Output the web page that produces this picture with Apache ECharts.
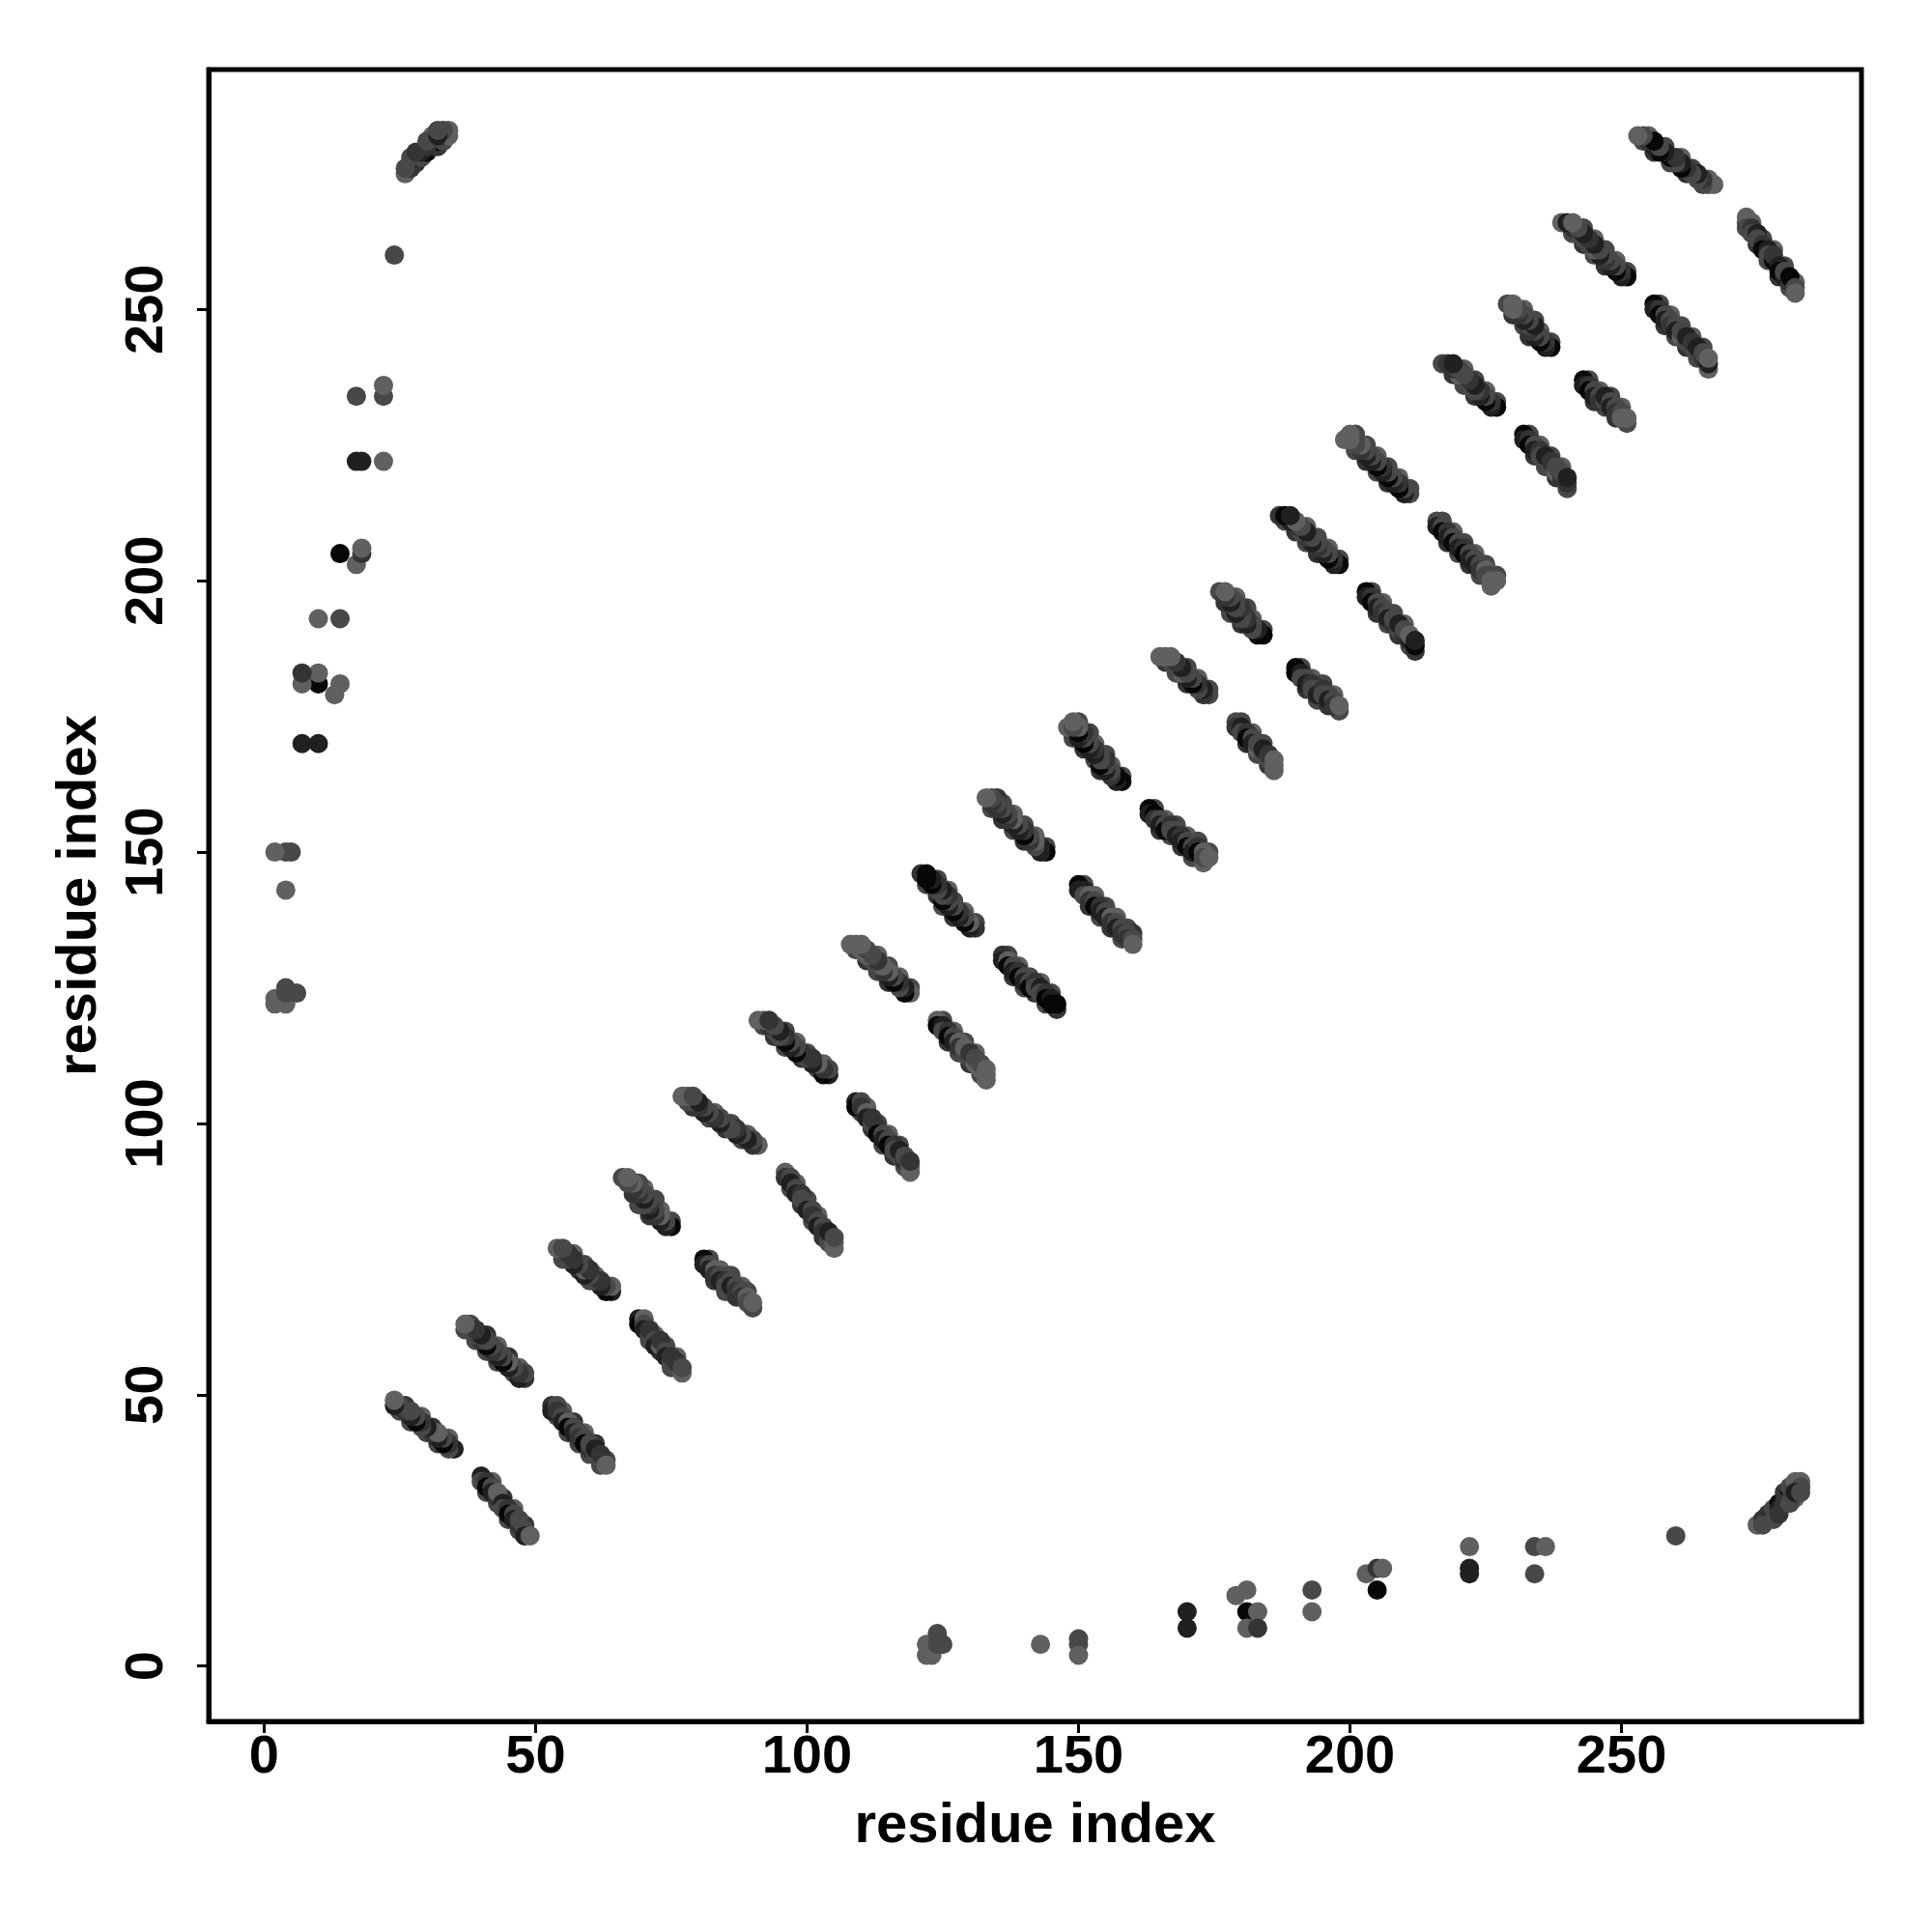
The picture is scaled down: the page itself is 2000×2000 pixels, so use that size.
<!DOCTYPE html>
<html>
<head>
<meta charset="utf-8">
<script src="https://cdn.jsdelivr.net/npm/echarts@6/dist/echarts.min.js"></script>
<style>
  html, body { margin: 0; padding: 0; background: #fff; }
  #chart { width: 2000px; height: 2000px; }
</style>
</head>
<body>
<div id="chart"></div>
<script>
// ---- data: residue-residue contacts [i, j, shade level] (map is symmetric: drawn at (i,j) and (j,i)) ----
// shade level: 0 = black ... 4 = light grey
const tickValues = [0, 50, 100, 150, 200, 250];

const terminalContacts = [
  [275,26,4],[276,27,2],[277,27,1],[277,28,2],[278,28,1],[278,29,3],[279,30,0],[279,29,1],
  [280,31,1],[280,32,2],[281,31,3],[281,32,0],[281,33,3],[282,33,2],[282,34,4],[283,34,4],
  [282,31,4],[283,33,3],[276,26,3],[278,27,3],[279,28,2],[280,30,2],[281,30,3],[282,32,1],[283,32,3]
];

const loopContacts = [
  [122,2,4],[123,2,4],[122,4,4],[124,4,3],[125,4,3],[124,6,3],[143,4,4],[150,5,3],[150,4,3],[150,2,4],
  [170,10,1],[170,7,1],[179,13,4],[181,14,4],[181,10,0],[183,10,4],[181,7,4],[183,7,2],
  [193,14,3],[193,10,4],[203,17,4],[205,18,2],[206,18,4],[205,14,0],
  [222,22,4],[222,18,1],[222,17,1],[234,22,3],[236,22,4],[234,17,3],[260,24,3]
];

const sheetContactsA = [
  [40,35,1],[40,34,3],[41,34,2],[41,33,0],[42,33,3],[42,32,1],[43,31,2],[43,32,4],[44,30,1],[44,29,3],
  [45,29,2],[45,28,0],[46,28,3],[46,27,1],[47,26,2],[47,27,3],[48,25,3],[48,24,1],[49,24,4],
  [53,48,2],[53,47,1],[54,48,3],[54,47,2],[55,46,3],[55,45,1],[56,45,4],[56,44,0],[57,44,3],[57,43,1],
  [58,43,3],[58,42,2],[59,42,3],[59,41,0],[60,40,2],[60,41,3],[61,39,3],[61,40,1],[62,38,3],[62,39,2],[63,37,4],
  [69,64,1],[69,63,0],[70,64,4],[70,63,3],[70,62,1],[71,61,3],[71,62,2],[72,60,3],[72,59,1],[73,59,4],
  [73,60,2],[74,58,3],[74,57,1],[75,56,3],[75,57,2],[76,55,3],[76,56,2],[77,54,4],[77,55,3],
  [81,75,0],[81,74,1],[82,74,3],[82,73,1],[83,73,4],[83,72,2],[84,72,3],[84,71,1],[85,71,2],[85,70,3],
  [86,71,3],[86,70,1],[87,70,3],[87,69,2],[88,69,3],[88,68,2],[89,68,4],[89,67,3],[90,67,4],
  [96,91,4],[96,90,2],[97,90,3],[97,89,1],[98,88,3],[98,87,1],[99,87,2],[99,86,3],[100,85,3],[100,84,1],
  [101,84,3],[101,83,2],[102,82,3],[102,81,1],[103,81,3],[103,80,2],[104,79,3],[104,80,1],[105,78,4],[105,79,3],
  [109,104,1],[109,103,0],[110,104,3],[110,103,2],[111,102,4],[111,101,1],[112,100,3],[112,101,2],[113,99,2],
  [113,98,0],[114,98,3],[114,97,1],[115,97,3],[115,96,0],[116,96,2],[116,95,3],[117,94,3],[117,95,1],
  [118,93,2],[118,94,3],[119,92,4],[119,93,2],
  [124,119,4],[124,118,0],[125,118,1],[125,117,3],[126,117,2],[126,116,0],[127,116,3],[127,115,1],[128,115,4],
  [128,114,2],[129,113,3],[129,114,4],[130,112,3],[130,113,2],[131,111,4],[131,112,3],[132,110,4],[132,111,3],
  [133,109,4],[133,110,4]
];

const sheetContactsB = [
  [136,131,2],[136,130,1],[137,130,4],[137,129,0],[138,129,3],[138,128,1],[139,128,2],[139,127,0],[140,127,3],
  [140,126,1],[141,126,3],[141,125,0],[142,126,2],[142,125,3],[143,125,1],[143,124,3],[144,124,2],[144,123,0],
  [145,123,1],[145,122,0],[146,122,0],
  [150,144,0],[150,143,1],[151,143,1],[151,142,3],[152,142,4],[152,141,2],[153,141,3],[153,140,0],[154,140,2],
  [154,139,1],[155,139,3],[155,138,1],[156,138,4],[156,137,2],[157,137,3],[157,136,1],[158,136,3],[158,135,2],
  [159,135,3],[159,134,2],[160,134,3],[160,133,4],
  [163,158,0],[163,157,1],[164,157,0],[164,156,2],[165,156,3],[165,155,1],[166,155,3],[166,154,0],[167,155,2],
  [167,154,3],[168,154,3],[168,153,1],[169,153,2],[169,152,1],[170,152,3],[170,151,0],[171,151,3],[171,150,1],
  [172,151,2],[172,150,0],[173,150,4],[173,149,3],[174,149,4],
  [179,174,3],[179,173,2],[180,173,1],[180,172,3],[181,172,2],[181,171,0],[182,171,3],[182,170,1],[183,169,4],
  [183,170,3],[184,168,3],[184,169,1],[185,167,3],[185,168,2],[186,166,4],[186,167,4],
  [190,184,0],[190,183,0],[191,183,1],[191,182,3],[192,182,3],[192,181,1],[193,181,2],[193,180,3],[194,180,3],
  [194,179,1],[195,180,2],[195,179,3],[196,179,3],[196,178,1],[197,178,3],[197,177,2],[198,177,4]
];

const sheetContactsC = [
  [203,198,0],[203,197,1],[204,197,2],[204,196,0],[205,196,3],[205,195,1],[206,195,3],[206,194,2],[207,194,3],
  [207,193,1],[208,192,2],[208,193,3],[209,191,3],[209,192,1],[210,190,2],[210,191,3],[211,189,1],[211,190,4],
  [212,188,0],[212,189,1],
  [216,211,3],[216,210,1],[217,210,3],[217,209,0],[218,209,2],[218,208,1],[219,208,3],[219,207,0],[220,207,3],
  [220,206,1],[221,206,2],[221,205,0],[222,205,3],[222,204,1],[223,204,3],[223,203,1],[224,203,3],[224,202,2],
  [225,202,4],[225,201,3],[226,201,3],[226,200,4],[227,200,4],
  [232,227,0],[232,226,1],[233,226,2],[233,225,0],[234,225,3],[234,224,1],[235,224,2],[235,223,3],[236,222,3],
  [236,223,1],[237,221,3],[237,222,2],[238,220,4],[238,221,3],[239,219,2],[239,220,3],[240,218,2],[240,219,1],
  [243,237,0],[243,236,1],[244,236,2],[244,235,0],[245,235,3],[245,234,1],[246,234,3],[246,233,2],[247,233,3],
  [247,234,1],[248,233,3],[248,232,1],[249,232,3],[249,231,2],[250,231,3],[250,230,4],[251,230,4],
  [256,251,0],[256,250,1],[257,250,2],[257,249,0],[258,249,3],[258,248,1],[259,248,3],[259,247,2],[260,247,3],
  [260,246,1],[261,245,4],[261,246,3],[262,244,3],[262,245,1],[263,243,3],[263,244,2],[264,242,3],[264,243,1],
  [265,241,2],[265,242,3],[266,240,1],[266,241,4],
  [273,267,4],[273,265,3],[274,265,2],[274,264,3],[275,264,1],[275,263,3],[276,262,2],[276,261,0],[277,261,1],
  [277,260,3],[278,259,0],[278,260,2],[279,258,1],[279,257,0],[280,256,1],[280,257,3],[281,255,2],[281,256,0],
  [282,254,3],[282,253,4]
];

// outer rows of the sheet bands (weaker contacts)
const sheetContactsEdge = [
  [41,32,3],[42,34,4],[43,30,3],[44,31,2],[45,27,3],[46,29,4],[47,25,3],[48,26,2],
  [54,46,3],[55,47,4],[56,43,3],[57,45,2],[58,41,3],[59,43,4],[60,39,3],[61,41,2],[62,37,3],[63,38,3],
  [71,60,3],[72,61,4],[73,58,2],[74,59,3],[75,55,3],[76,57,4],
  [82,75,3],[83,71,2],[84,73,4],[85,69,3],[86,72,3],[87,68,2],[88,70,4],[89,69,3],[90,66,3],
  [97,88,3],[98,89,4],[99,85,2],[100,86,3],[101,82,3],[102,83,4],[103,79,2],[104,78,3],[105,77,4],
  [110,102,3],[111,103,4],[112,99,2],[113,100,3],[114,96,3],[115,98,4],[116,94,2],[117,96,3],[118,92,3],[119,91,4],
  [125,119,3],[126,115,2],[127,117,4],[128,113,3],[129,115,3],[130,111,2],[131,113,4],[132,109,3],[133,108,4],
  [137,131,3],[138,127,2],[139,129,4],[140,125,3],[141,127,3],[142,124,2],[143,126,4],[144,122,3],[145,124,3],[146,121,2],
  [151,144,3],[152,140,2],[153,142,4],[154,138,3],[155,140,3],[156,136,2],[157,138,4],[158,134,3],[159,136,3],[160,135,2],
  [164,158,3],[165,154,2],[166,156,4],[167,153,3],[168,155,3],[169,151,2],[170,153,4],[171,149,3],[172,152,3],[173,148,4],[174,150,3],
  [180,174,3],[181,170,2],[182,172,4],[183,168,3],[184,170,3],[185,166,2],[186,165,4],
  [191,184,3],[192,180,2],[193,182,4],[194,178,3],[195,181,3],[196,177,2],[197,179,4],[198,176,3],
  [204,198,3],[205,194,2],[206,196,4],[207,192,3],[208,194,3],[209,190,2],[210,192,4],[211,188,3],[212,187,2],
  [217,211,3],[218,207,2],[219,209,4],[220,205,3],[221,207,3],[222,203,2],[223,205,4],[224,201,3],[225,203,3],[226,199,4],[227,201,3],
  [233,227,3],[234,223,2],[235,225,4],[236,221,3],[237,223,3],[238,219,2],[239,221,4],[240,217,3],
  [244,237,3],[245,233,2],[246,235,4],[247,232,3],[248,234,3],[249,230,2],[250,232,4],[251,229,3],
  [257,251,3],[258,247,2],[259,249,4],[260,245,3],[261,247,3],[262,243,2],[263,245,4],[264,241,3],[265,243,3],[266,239,4],
  [273,266,3],[274,266,4],[275,262,2],[276,263,3],[277,259,3],[278,261,4],[279,256,2],[280,258,3],[281,254,3],[282,255,4]
];

// ---- styling ----
const shadeColors = ['#070707', '#202020', '#343434', '#484848', '#606060'];
const FONT = '"Liberation Sans", Arial, Helvetica, sans-serif';

const allContacts = [].concat(sheetContactsEdge, terminalContacts, loopContacts, sheetContactsA, sheetContactsB, sheetContactsC);
const points = [];
allContacts.forEach(c => {
  points.push([c[0], c[1], c[2]]);
  points.push([c[1], c[0], c[2]]);
});

const axisCommon = {
  type: 'value', min: -10.2, max: 294.2,
  name: 'residue index', nameLocation: 'middle',
  nameTextStyle: { fontFamily: FONT, fontSize: 58, fontWeight: 'bold', color: '#000' },
  axisLine: { show: true, onZero: false, lineStyle: { color: '#000', width: 5 } },
  splitLine: { show: false },
  axisTick: { show: true, inside: false, customValues: tickValues, length: 12, lineStyle: { color: '#000', width: 3 } }
};

const chart = echarts.init(document.getElementById('chart'), null, { renderer: 'canvas' });
chart.setOption({
  animation: false,
  backgroundColor: '#ffffff',
  grid: {
    left: 216, right: 73, top: 72, bottom: 218,
    show: true, borderColor: '#000', borderWidth: 5, backgroundColor: 'transparent'
  },
  xAxis: Object.assign({}, axisCommon, {
    nameGap: 80,
    axisLabel: { customValues: tickValues, fontFamily: FONT, fontSize: 56, fontWeight: 'bold', color: '#000', margin: 10 }
  }),
  yAxis: Object.assign({}, axisCommon, {
    nameGap: 104,
    axisLabel: { customValues: tickValues, rotate: 90, fontFamily: FONT, fontSize: 56, fontWeight: 'bold', color: '#000', margin: 35 }
  }),
  series: [{
    type: 'scatter',
    symbol: 'circle',
    symbolSize: 20,
    data: points,
    itemStyle: { color: p => shadeColors[p.value[2]], opacity: 1 }
  }]
});
</script>
</body>
</html>
